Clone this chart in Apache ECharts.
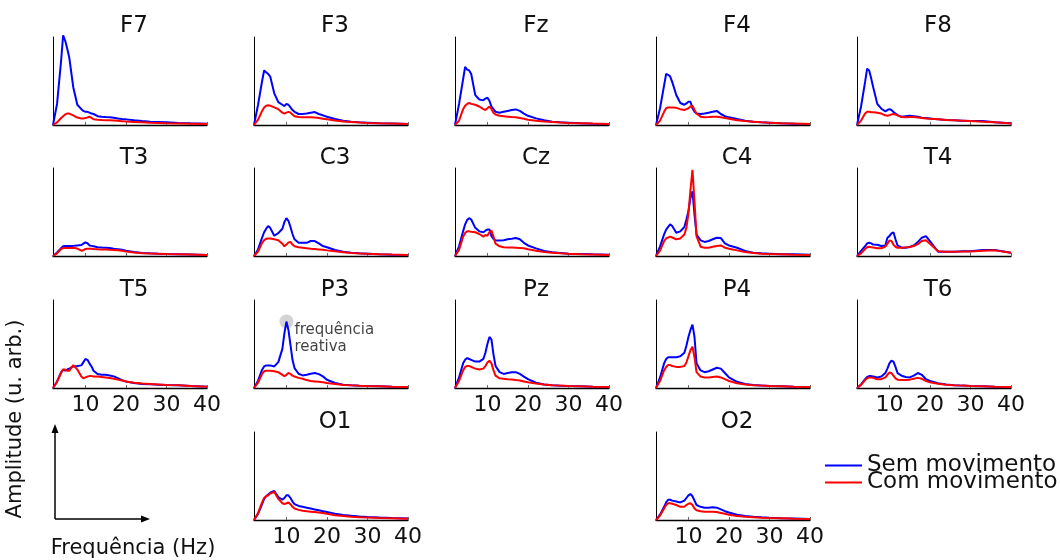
<!DOCTYPE html>
<html>
<head>
<meta charset="utf-8">
<script src="https://cdn.jsdelivr.net/npm/echarts@6/dist/echarts.min.js"></script>
<style>
  html, body { margin: 0; padding: 0; background: #fff; }
  #chart { width: 1060px; height: 560px; }
</style>
</head>
<body>
<div id="chart"></div>
<script>
// Frequency samples (Hz)
const freq = [2,3,4,4.5,5,5.5,6,7,8,9,9.5,10,10.5,11,11.5,12,13,14,15,16,17,18,19,20,22,24,26,28,30,33,36,40];
const xTickValues = [10, 20, 30, 40];
const seriesNames = ['Sem movimento', 'Com movimento'];
const channels = ['F7','F3','Fz','F4','F8','T3','C3','Cz','C4','T4','T5','P3','Pz','P4','T6','O1','O2'];

// Amplitude (u. arb.) — "Sem movimento" (blue) and "Com movimento" (red)
const F7_sem = [0,24,73,102,96,87,77,43,23,18,16,15,15,14,13,12.5,10,9.4,9,8.7,8.3,7.5,6.8,6.4,5.3,4.5,3.8,3.4,3,2.3,1.9,1.5];
const F7_com = [0,3,8,10,12,13,13,11,8.5,7.5,7.5,8,8.5,9.5,8,6.5,6,5.7,5.5,5.3,5,4.7,4.4,4,3.5,3,2.6,2.3,2,1.7,1.4,1];
const F3_sem = [0,23,50,62,60,58,55,36,26,23,21.5,24,23,20,17,15,12.5,12.5,13,14,14.7,12.5,11,9.4,6.8,4.9,3.8,3,2.6,1.9,1.7,1.1];
const F3_com = [0,6,16,20,22,22.5,22,20,18,14,13,14,15,14,12,10,9,8.7,8.7,8.7,8.5,8,7,6.5,5,4,3.4,2.8,2.4,2,1.7,1.2];
const Fz_sem = [0,24,52,66,63,62,58,34,29,28,30,31,27.5,21,18,15,14,15,16,17,17.7,16,13,10.5,7.5,5.3,3.8,3,2.6,1.9,1.5,1.1];
const Fz_com = [0,5,18,22,24,25,24,23,21,18,17,19,21,18,14,12,10.5,10,9.5,9,8.7,8,7,6,4.8,4,3.4,2.8,2.4,2,1.6,1.2];
const F4_sem = [0,19,45,58,57,55,49,34,25,23,24.5,26.5,26.5,19,15,13,12.5,13,14,15,16,12.5,10,8.7,6.8,4.9,3.8,3,2.6,1.9,1.5,1.1];
const F4_com = [0,5,15,19,20,20,20,19.5,18,17,18,19,21,22,17,13,9.5,8.7,9,9.4,9.4,8.7,8,7,5.5,4.5,3.8,3,2.6,2,1.7,1.2];
const F8_sem = [0,21,49,64,62,53,43,24,18.5,15.5,17,18,17,14.7,13,11.3,9.4,10,10.5,10,9.4,8.3,7.9,7.5,6.4,5.7,5.3,4.9,4.5,4.5,3,1.9];
const F8_com = [0,5,13,15,15,14.5,14.5,14,13,11,10.5,11,12,12.5,11.8,11,9,8.7,9,9,8.5,8,7.5,7,6.4,5.7,5.3,4.9,4.5,3.8,3,1.8];
const T3_sem = [0,4,9,11,11.5,11.5,11.5,11.5,12,12.5,14,15.5,14.5,12,11.5,11,10,9.6,9.4,9,8.3,7.7,7,6,4.5,3.5,3,2.6,2.3,2,1.7,1.2];
const T3_com = [0,3,8,9,9.2,9.2,9.2,9.4,8.5,6,6.5,8,8.3,8.3,8.2,8,7.7,7.5,7.5,7,6.8,6.4,6,5,4,3.2,2.8,2.5,2.2,1.9,1.6,1.2];
const C3_sem = [0,7.5,21,27,31,34,32,23,26,31,38.5,43,40,33,25,19,15,15,15,17,17,14.3,11.3,10,6.8,4.9,3.8,3,2.6,1.9,1.5,1.1];
const C3_com = [0,5,15,18,19.5,20,20,19,18,14,11,13,15.5,16,13,11,10,9.4,8.7,8.3,8,7.5,7,6.4,5.3,4.2,3.4,2.8,2.5,2,1.6,1.2];
const Cz_sem = [0,11,28,36,41,43,41.5,32,28,27,28.7,30,30,22.6,19.5,17.7,17.7,18,19,19.6,20.4,19,15,12,8.7,5.7,4.2,3.4,2.6,2.3,1.9,1.5];
const Cz_com = [0,7,22,26,28,28,27.5,27,25,22,24,23,27,29,22,14,11,10,9.8,9.6,9.4,9.2,8.7,7.7,6,4.5,3.8,3,2.6,2.1,1.7,1.2];
const C4_sem = [0,11,24.5,30,33,36,34,26.4,28,33,41.5,51,66,73.6,47,24.5,17.7,16,17,19,20.8,20.4,14.3,12,9.4,5.7,3.8,3,2.6,1.9,1.9,1.5];
const C4_com = [0,6,17,20,21,22,21,19,20,24.5,32,48,75,98,62,22.6,10.6,9.4,9.4,10.6,11.3,12,9.4,8.3,6.4,4.5,3.4,2.6,2.3,1.9,1.5,1.1];
const T4_sem = [0,5.7,11.3,14.3,15,14.3,13,12.8,11.3,12,20.8,22.6,25.6,27,19,12,9.4,9.4,10.2,12,15.8,20.8,22.6,17,4.9,4.9,4.9,5.3,5.3,6.8,6.8,3.8];
const T4_com = [0,3,8,10,10.6,10,9.6,8.7,8.7,10.6,14,17.5,17,13,10.5,9.4,9.4,9.8,10.2,11.3,13.5,17,18,14,5.3,4.9,4.9,5,5.2,6,6.4,3.8];
const T5_sem = [0,7.5,18,21,19.6,21,22,24.5,25,25.7,29.4,33,32,28,24.5,19.6,15.8,15,15,14.3,13.2,11.3,9,7.5,5.7,4.5,4.2,3.8,3.4,3,2.3,1.5];
const T5_com = [0,7,17,21,21,19.5,19.5,26,21,13,11,12,13,13.5,13.5,13.2,13,12.5,12,11.3,10.5,9.5,8.5,7.5,6,5,4.5,4,3.5,3,2.3,1.5];
const P3_sem = [0,8.3,20.8,24.5,25.7,25.7,25.7,24.5,29.4,44.5,62,75.5,66,49,32,22.6,16.2,14.3,15,16.2,17,15.8,13.2,9.4,5.7,3.8,3,2.6,2.3,1.9,1.5,1.1];
const P3_com = [0,6,16,19,19.6,19.6,19.6,19,18,15,13.5,15,17,16,14,13,11.5,10.5,9,8,7.5,7,6.5,5.8,4.5,3.5,3,2.6,2.3,1.9,1.5,1.1];
const Pz_sem = [0,12,28,32,34,33,32,30,30,33,40,50,58,55,38,25,18,16,17,18,18,16,13,10,6,4,3,2.6,2.3,1.9,1.5,1.1];
const Pz_com = [0,8,20,24,25,25,24,22,21,22,25,29,31,28,20,14,11,10.5,10,9.6,9,8.5,7.5,6.5,5,4,3.2,2.7,2.3,1.9,1.5,1.1];
const P4_sem = [0,12,28,33,35,35,35,35,36,40,48,58,66,72,58,28,20,18,19,21,23,22,17,12,7,4.5,3.4,2.8,2.3,1.9,1.5,1.1];
const P4_com = [0,8,20,24,26,26,25,24,24,25,29,36,43,47,35,18,13,12,12,12.5,13,12,10,8,5.5,4,3.2,2.7,2.3,1.9,1.5,1.1];
const T6_sem = [0,4,10,12.5,13.5,13.5,13,12,13,17,22,28,31,30,24,17,14,12.5,12,14,17,15,10,8,5.5,4,3.2,2.7,2.3,1.9,1.5,1.1];
const T6_com = [0,3.5,9,11,12,12,11.5,10,10,12,15,17.5,17,14,11,9.5,9,9,9.5,10.5,11.5,10.5,8,6.5,4.8,3.8,3.2,2.7,2.3,1.9,1.5,1.1];
const O1_sem = [0,7,18,24,27,29,31,33,26,23,25,28,28,25,21,18,16,15,14,13,12,11,10,9,7,5.7,4.8,4,3.4,2.8,2.3,1.7];
const O1_com = [0,8,20,25,27,28,30,32,24,19,18,19,20,18,15,13,11.5,10.5,10,9.5,9,8.5,8,7,5.5,4.5,3.8,3.2,2.8,2.3,2,1.5];
const O2_sem = [0,6,15,20,23,23,22,21,20,22,25,28,29.5,27,22,17,15,14,14,14.5,14,12,10,8.5,6,4.5,3.6,3,2.6,2.1,1.7,1.2];
const O2_com = [0,5,13,17,19,19,18.5,17,15,15,17,18.5,19,17,13,11,10,9.5,9.5,9.5,9,8,7,6,4.5,3.6,3,2.6,2.3,1.9,1.5,1.1];

const semData = {F7:F7_sem,F3:F3_sem,Fz:Fz_sem,F4:F4_sem,F8:F8_sem,T3:T3_sem,C3:C3_sem,Cz:Cz_sem,C4:C4_sem,T4:T4_sem,T5:T5_sem,P3:P3_sem,Pz:Pz_sem,P4:P4_sem,T6:T6_sem,O1:O1_sem,O2:O2_sem};
const comData = {F7:F7_com,F3:F3_com,Fz:Fz_com,F4:F4_com,F8:F8_com,T3:T3_com,C3:C3_com,Cz:Cz_com,C4:C4_com,T4:T4_com,T5:T5_com,P3:P3_com,Pz:Pz_com,P4:P4_com,T6:T6_com,O1:O1_com,O2:O2_com};

// Layout (row, column) of each panel
const panelPos = {F7:[0,0],F3:[0,1],Fz:[0,2],F4:[0,3],F8:[0,4],T3:[1,0],C3:[1,1],Cz:[1,2],C4:[1,3],T4:[1,4],T5:[2,0],P3:[2,1],Pz:[2,2],P4:[2,3],T6:[2,4],O1:[3,1],O2:[3,3]};
const labelledPanels = ['T5','Pz','T6','O1','O2'];
const annotatedPanel = 'P3';

const colLeft = [53, 254, 455, 656, 857];
const rowTop = [37, 168, 300, 432];
const titleY = [26, 158, 290, 422];
const PW = 154, PH = 88;
const FONT = '"DejaVu Sans", "Liberation Sans", sans-serif';
const BLUE = '#0000ff', RED = '#ff0000';

const grids = [], xAxes = [], yAxes = [], series = [], graphics = [];

channels.forEach((ch, i) => {
  const [r, c] = panelPos[ch];
  const left = colLeft[c], top = rowTop[r];
  grids.push({ left: left, top: top, width: PW, height: PH, containLabel: false });
  const showLab = labelledPanels.includes(ch);
  xAxes.push({
    type: 'value', gridIndex: i, min: 2, max: 40,
    axisLine: { show: true, onZero: false, lineStyle: { color: '#000', width: 1.3 } },
    axisTick: { show: true, inside: true, length: 3, customValues: xTickValues, lineStyle: { color: '#666', width: 1 } },
    axisLabel: { show: showLab, customValues: xTickValues, margin: 6, fontSize: 22, fontFamily: FONT, color: '#111' },
    splitLine: { show: false }
  });
  yAxes.push({
    type: 'value', gridIndex: i, min: 0, max: 100,
    axisLine: { show: true, onZero: false, lineStyle: { color: '#000', width: 1 } },
    axisTick: { show: false }, axisLabel: { show: false }, splitLine: { show: false }
  });
  series.push({
    type: 'line', name: seriesNames[0], xAxisIndex: i, yAxisIndex: i,
    data: freq.map((f, k) => [f, semData[ch][k]]),
    symbol: 'none', smooth: false, clip: false, z: 3,
    lineStyle: { color: BLUE, width: 2 }, itemStyle: { color: BLUE }
  });
  series.push({
    type: 'line', name: seriesNames[1], xAxisIndex: i, yAxisIndex: i,
    data: freq.map((f, k) => [f, comData[ch][k]]),
    symbol: 'none', smooth: false, clip: false, z: 4,
    lineStyle: { color: RED, width: 2 }, itemStyle: { color: RED }
  });
  graphics.push({
    type: 'text', x: left + 81, y: titleY[r], z: 10,
    style: { text: ch, fontSize: 23, fontFamily: FONT, fill: '#111', align: 'center', verticalAlign: 'middle' }
  });
});

// reactive-frequency annotation at the peak of the P3 "Sem movimento" curve
(function () {
  const i = channels.indexOf(annotatedPanel);
  const vals = semData[annotatedPanel];
  let k = 0;
  vals.forEach((v, j) => { if (v > vals[k]) k = j; });
  series.push({
    type: 'scatter', name: 'anotação', xAxisIndex: i, yAxisIndex: i, z: 2,
    data: [[freq[k], vals[k]]], symbol: 'circle', symbolSize: 14,
    itemStyle: { color: '#c8c8c8' },
    label: {
      show: true, position: 'right', distance: 1, offset: [0, 17],
      formatter: 'frequência\nreativa', fontSize: 15, lineHeight: 17,
      fontFamily: FONT, color: '#111', align: 'left'
    },
    silent: true
  });
})();

// Axis names and schematic arrows
graphics.push({
  type: 'text', x: 16, y: 419, rotation: Math.PI / 2,
  style: { text: 'Amplitude (u. arb.)', fontSize: 21, fontFamily: FONT, fill: '#111', align: 'center', verticalAlign: 'middle' }
});
graphics.push({
  type: 'text', x: 133, y: 549,
  style: { text: 'Frequência (Hz)', fontSize: 21, fontFamily: FONT, fill: '#111', align: 'center', verticalAlign: 'middle' }
});
graphics.push({ type: 'line', shape: { x1: 55, y1: 519, x2: 55, y2: 430 }, style: { stroke: '#000', lineWidth: 1.5 } });
graphics.push({ type: 'polygon', shape: { points: [[55, 424], [51.5, 433], [58.5, 433]] }, style: { fill: '#000' } });
graphics.push({ type: 'line', shape: { x1: 55, y1: 519, x2: 144, y2: 519 }, style: { stroke: '#000', lineWidth: 1.5 } });
graphics.push({ type: 'polygon', shape: { points: [[150, 519], [141, 515.5], [141, 522.5]] }, style: { fill: '#000' } });

const chart = echarts.init(document.getElementById('chart'), null, { renderer: 'canvas' });
chart.setOption({
  animation: false,
  backgroundColor: '#fff',
  grid: grids,
  xAxis: xAxes,
  yAxis: yAxes,
  legend: {
    data: seriesNames, orient: 'vertical', left: 820, top: 449, padding: 5,
    icon: 'rect', itemWidth: 37, itemHeight: 2, itemGap: -6, itemTextGap: 4,
    textStyle: { fontSize: 23, fontFamily: FONT, color: '#111' }
  },
  series: series,
  graphic: graphics
});
</script>
</body>
</html>
